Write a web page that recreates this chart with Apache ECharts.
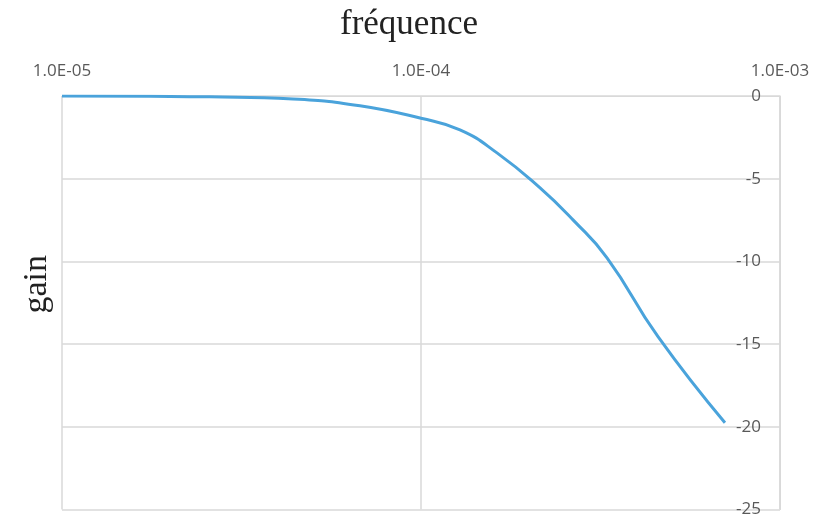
<!DOCTYPE html>
<html>
<head>
<meta charset="utf-8">
<script src="https://cdn.jsdelivr.net/npm/echarts@6/dist/echarts.min.js"></script>
<style>html,body{margin:0;padding:0;background:#fff}#c{width:818px;height:518px}</style>
</head>
<body>
<div id="c"></div>
<script>
var frequencies = [1.0e-5, 1.76e-5, 2.58e-5, 4.4e-5, 6.76e-5, 1.0e-4, 1.284e-4, 1.628e-4, 2.146e-4, 2.651e-4, 3.297e-4, 4.573e-4, 7.026e-4];
var gains = [0, -0.02, -0.05, -0.18, -0.59, -1.35, -2.05, -3.44, -5.56, -7.49, -9.78, -14.55, -19.75];
var xTitle = 'fréquence';
var yTitle = 'gain';

var chart = echarts.init(document.getElementById('c'), null, {renderer: 'canvas'});
var gridColor = '#d9d9d9';
var labelFont = "'Liberation Sans Narrow', 'Open Sans', sans-serif";
chart.setOption({
  animation: false,
  title: {
    text: xTitle, left: 'center', top: 2,
    textStyle: {fontFamily: "'Liberation Serif', serif", fontWeight: 'normal', fontSize: 35, color: '#222'}
  },
  graphic: [{
    type: 'text', left: 20, top: 255, rotation: Math.PI / 2,
    style: {text: yTitle, font: "34px 'Liberation Serif', serif", fill: '#222'}
  }],
  grid: {left: 62, right: 38, top: 96, bottom: 8, containLabel: false},
  xAxis: {
    type: 'log', logBase: 10, min: 1e-5, max: 1e-3, position: 'top',
    axisLine: {show: true, lineStyle: {color: gridColor}},
    axisTick: {show: false},
    minorTick: {show: false},
    splitLine: {show: true, lineStyle: {color: gridColor, width: 1.5}},
    axisLabel: {
      margin: 16, color: '#595959', fontSize: 17, fontFamily: labelFont,
      formatter: function (v) {
        var e = Math.round(Math.log10(v));
        var s = Math.abs(e) < 10 ? '0' + Math.abs(e) : '' + Math.abs(e);
        return '1.0E' + (e < 0 ? '-' : '+') + s;
      }
    }
  },
  yAxis: {
    type: 'value', min: -25, max: 0, interval: 5, position: 'right',
    axisLine: {show: true, lineStyle: {color: gridColor}},
    axisTick: {show: false},
    splitLine: {show: true, lineStyle: {color: gridColor, width: 1.5}},
    axisLabel: {inside: true, margin: 19, color: '#595959', fontSize: 17, fontFamily: labelFont}
  },
  series: [{
    type: 'line', smooth: 0.5, symbol: 'none',
    data: frequencies.map(function (f, i) { return [f, gains[i]]; }),
    lineStyle: {color: '#4aa3db', width: 3}
  }]
});
</script>
</body>
</html>
